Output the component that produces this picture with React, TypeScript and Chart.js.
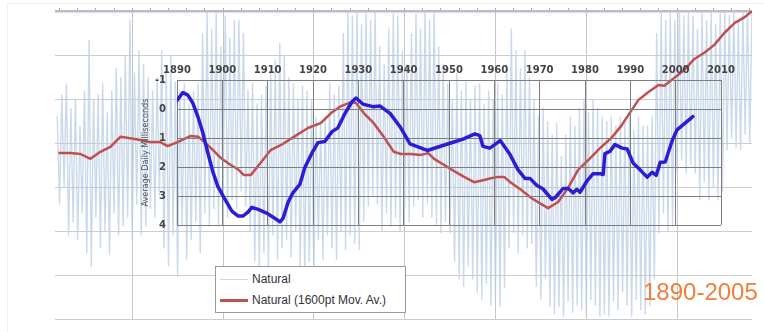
import React, { useEffect, useRef } from 'react';
import { Chart, registerables } from 'chart.js';

Chart.register(...registerables);

// ---- Background series "Natural" (daily values, sampled every half year, outer-chart units) ----
const natStartYear = 1863.5;
const natStepYears = 0.5;
const naturalValues = [
  4.6, 2.6, 5.1, 3.0, 5.36, 1.9, 4.8, 2.2, 5.0, 1.8,
  4.4, 2.4, 5.2, 1.5, 6.34, 1.18, 5.0, 2.3, 5.1, 1.6,
  5.36, 2.0, 4.7, 1.45, 5.2, 2.4, 5.7, 1.9, 5.5, 2.1,
  6.0, 2.3, 6.8, 1.8, 5.6, 2.6, 6.1, 1.9, 5.8, 2.1,
  5.5, 2.5, 5.2, 2.3, 5.5, 2.8, 6.1, 1.6, 5.7, 1.2,
  6.0, 1.9, 5.4, 0.95, 5.2, 2.1, 5.36, 1.34, 4.9, 1.8,
  5.2, 2.2, 5.36, 1.5, 6.5, 2.4, 7.0, 2.1, 6.6, 2.5,
  7.0, 2.1, 6.2, 2.8, 6.9, 2.3, 6.4, 2.7, 6.8, 2.5,
  6.8, 2.9, 6.5, 2.55, 5.2, 2.0, 5.36, 1.3, 4.9, 1.18,
  5.1, 1.5, 5.3, 1.2, 5.6, 1.9, 5.9, 1.34, 6.27, 1.6,
  6.0, 1.8, 5.5, 1.4, 5.36, 2.0, 5.0, 1.1, 5.3, 1.05,
  5.2, 1.3, 5.0, 1.05, 4.6, 1.8, 4.5, 1.34, 4.6, 1.9,
  5.36, 1.6, 5.1, 1.34, 5.3, 2.0, 6.5, 1.57, 7.0, 1.9,
  6.9, 1.7, 7.0, 1.57, 6.7, 2.2, 7.0, 2.55, 6.8, 2.8,
  7.0, 2.6, 6.2, 2.0, 5.8, 2.4, 6.6, 2.1, 6.95, 2.3,
  6.9, 2.0, 6.1, 2.5, 5.8, 2.2, 6.5, 2.55, 6.95, 2.7,
  6.6, 2.3, 7.0, 2.6, 6.8, 2.3, 7.0, 2.1, 6.2, 1.95,
  5.8, 2.2, 5.36, 1.95, 5.0, 1.3, 5.6, 0.9, 5.2, 0.73,
  5.4, 1.2, 5.0, 0.9, 5.3, 0.6, 5.36, 0.43, 4.9, 0.8,
  5.2, 0.3, 5.0, 0.5, 5.36, 0.27, 5.1, 0.7, 5.8, 1.6,
  6.6, 1.95, 6.1, 1.5, 5.7, 1.9, 6.1, 1.6, 5.5, 1.7,
  5.0, 0.73, 4.6, 0.43, 4.8, 0.9, 4.5, 0.27, 4.2, 0.1,
  4.45, 0.27, 3.7, 0.05, 4.2, 0.4, 4.6, 0.14, 4.4, 0.3,
  4.8, 0.2, 5.0, 0.14, 4.7, 0.43, 5.0, 0.3, 4.8, 0.05,
  4.6, 0.1, 4.5, 0.05, 4.6, 0.4, 4.4, 0.2, 4.6, 0.6,
  4.5, 0.3, 4.6, 0.05, 4.3, 0.43, 4.6, 0.2, 4.4, 0.1,
  4.4, 0.3, 4.6, 0.9, 6.5, 1.95, 7.0, 2.4, 6.8, 2.0,
  7.0, 2.1, 6.8, 3.3, 7.0, 3.6, 6.9, 3.3, 7.0, 3.5,
  6.9, 3.3, 6.6, 2.7, 7.0, 3.1, 6.8, 2.7, 7.0, 3.0,
  6.7, 2.7, 7.0, 2.9, 7.0, 3.84, 6.9, 4.1, 7.0, 3.9,
  6.8, 3.84, 7.0, 4.2, 7.0, 4.0, 7.0,
];

// ---- "Natural (1600pt Mov. Av.)" (outer-chart units) ----
const movAvYears = [
  1863.75, 1866.4, 1868.6, 1870.8, 1873.0, 1875.2, 1877.4, 1879.6, 1881.8, 1884.0,
  1886.2, 1887.8, 1890.0, 1892.9, 1894.6, 1897.3, 1899.5, 1901.7, 1903.2, 1904.6,
  1906.1, 1908.3, 1910.5, 1912.7, 1915.6, 1918.7, 1921.5, 1923.8, 1926.0, 1928.2,
  1929.3, 1931.0, 1933.2, 1935.4, 1937.6, 1939.2, 1941.4, 1943.6, 1945.2, 1946.5,
  1948.7, 1950.9, 1953.1, 1955.3, 1957.5, 1959.0, 1960.6, 1961.9, 1963.5, 1965.7,
  1967.9, 1970.1, 1971.6, 1973.8, 1976.0, 1978.2, 1981.1, 1983.3, 1985.5, 1987.7,
  1989.3, 1991.5, 1993.7, 1995.9, 1997.2, 1999.4, 2001.6, 2003.8, 2006.0, 2008.2,
  2010.4, 2012.7, 2014.9, 2016.5,
];
const movAvValues = [
  3.77, 3.77, 3.75, 3.64, 3.80, 3.91, 4.14, 4.11, 4.07, 4.02,
  4.02, 3.93, 4.02, 4.16, 4.14, 3.89, 3.66, 3.50, 3.41, 3.27,
  3.27, 3.55, 3.84, 3.95, 4.14, 4.34, 4.45, 4.68, 4.84, 4.93,
  4.91, 4.68, 4.45, 4.14, 3.80, 3.75, 3.75, 3.73, 3.77, 3.64,
  3.50, 3.36, 3.23, 3.11, 3.16, 3.20, 3.23, 3.23, 3.09, 2.93,
  2.75, 2.61, 2.52, 2.66, 2.98, 3.39, 3.68, 3.91, 4.11, 4.39,
  4.64, 4.98, 5.16, 5.32, 5.30, 5.48, 5.66, 5.91, 6.05, 6.23,
  6.50, 6.73, 6.86, 7.0,
];

// ---- Inset: average daily milliseconds (LOD) ----
const insetYears = [
  1889.8, 1891.3, 1892.4, 1893.5, 1894.6, 1895.7, 1896.8, 1897.9, 1899.0, 1900.6,
  1902.1, 1903.5, 1904.6, 1905.7, 1906.5, 1907.9, 1909.9, 1911.2, 1912.7, 1913.4,
  1914.5, 1915.6, 1917.1, 1918.2, 1919.8, 1921.1, 1922.6, 1924.2, 1925.5, 1927.1,
  1928.6, 1929.5, 1931.0, 1933.2, 1934.8, 1937.0, 1939.2, 1941.4, 1945.2, 1950.2,
  1953.1, 1955.7, 1956.8, 1957.5, 1959.0, 1961.3, 1963.5, 1965.2, 1966.8, 1967.9,
  1969.4, 1970.7, 1972.7, 1973.4, 1975.2, 1976.3, 1977.4, 1978.2, 1978.9, 1980.4,
  1981.8, 1983.3, 1984.0, 1984.4, 1985.5, 1986.6, 1988.2, 1989.3, 1990.6, 1992.1,
  1993.7, 1994.8, 1995.7, 1996.6, 1997.7, 1999.3, 2000.3, 2001.6, 2003.2, 2003.8,
];
const insetValues = [
  -0.25, -0.57, -0.48, -0.20, 0.26, 0.82, 1.51, 2.16, 2.67, 3.12,
  3.52, 3.69, 3.69, 3.55, 3.39, 3.46, 3.60, 3.73, 3.89, 3.77,
  3.22, 2.88, 2.60, 2.02, 1.51, 1.16, 1.12, 0.78, 0.65, 0.14,
  -0.25, -0.38, -0.17, -0.08, -0.10, 0.15, 0.61, 1.20, 1.43, 1.18,
  1.04, 0.86, 0.92, 1.29, 1.35, 1.09, 1.58, 2.09, 2.40, 2.40,
  2.64, 2.75, 3.12, 3.06, 2.74, 2.74, 2.89, 2.77, 2.87, 2.49,
  2.23, 2.23, 2.26, 1.54, 1.46, 1.23, 1.35, 1.38, 1.86, 2.09,
  2.35, 2.18, 2.29, 1.84, 1.83, 1.06, 0.72, 0.55, 0.34, 0.26,
];

// ---- Ticks / labels ----
const outerGridYears = [1880, 1900, 1920, 1940, 1960, 1980, 2000];
const outerGridLevels = [0, 1, 2, 3, 4, 5, 6, 7];
const topTickYears = [
  1864, 1868, 1872, 1876, 1880, 1884, 1888, 1892, 1896, 1900, 1904, 1908, 1912,
  1916, 1920, 1924, 1928, 1932, 1936, 1940, 1944, 1948, 1952, 1956, 1960, 1964,
  1968, 1972, 1976, 1980, 1984, 1988, 1992, 1996, 2000, 2004, 2008, 2012, 2016,
];
const insetXTicks = [1890, 1900, 1910, 1920, 1930, 1940, 1950, 1960, 1970, 1980, 1990, 2000, 2010];
const insetYTicks = [-1, 0, 1, 2, 3, 4];
const insetYTitle = 'Average Daily Milliseconds';
const legendLabels = ['Natural', 'Natural (1600pt Mov. Av.)'];
const periodLabel = '1890-2005';

const NAT_COLOR = 'rgba(186,204,228,0.75)';
const RED = '#c0504d';
const BLUE = '#2b1dd6';

export default function App() {
  const outerRef = useRef<HTMLCanvasElement>(null);
  const insetRef = useRef<HTMLCanvasElement>(null);

  useEffect(() => {
    const natural = naturalValues.map((v, i) => ({ x: natStartYear + i * natStepYears, y: v }));
    const movAv = movAvYears.map((x, i) => ({ x, y: movAvValues[i] }));
    const inset = insetYears.map((x, i) => ({ x, y: insetValues[i] }));

    const outer = new Chart(outerRef.current as HTMLCanvasElement, {
      type: 'line',
      data: {
        datasets: [
          { label: legendLabels[1], data: movAv, borderColor: RED, borderWidth: 2.5, pointRadius: 0, order: 0, borderJoinStyle: 'round' },
          { label: legendLabels[0], data: natural, borderColor: NAT_COLOR, borderWidth: 1.4, pointRadius: 0, order: 1 },
        ],
      },
      options: {
        animation: false,
        responsive: false,
        events: [],
        layout: { padding: { left: 55, top: 8, right: 12, bottom: 13 } },
        plugins: { legend: { display: false }, tooltip: { enabled: false } },
        scales: {
          x: {
            type: 'linear', position: 'bottom', min: 1863, max: 2016.5,
            afterBuildTicks: (s: any) => { s.ticks = outerGridYears.map((v) => ({ value: v })); },
            afterFit: (s: any) => { s.height = 0; s.paddingLeft = 0; s.paddingRight = 0; },
            ticks: { display: false },
            grid: { color: '#c6c6c6', lineWidth: 1, drawTicks: false },
            border: { display: false },
          },
          xTop: {
            type: 'linear', position: 'top', min: 1863, max: 2016.5,
            afterBuildTicks: (s: any) => { s.ticks = topTickYears.map((v) => ({ value: v })); },
            afterFit: (s: any) => { s.height = 3; s.paddingLeft = 0; s.paddingRight = 0; },
            ticks: { display: false },
            grid: { drawOnChartArea: false, drawTicks: true, tickLength: 3, color: '#aaa7b8' },
            border: { display: false },
          },
          y: {
            type: 'linear', min: 0, max: 7,
            afterBuildTicks: (s: any) => { s.ticks = outerGridLevels.map((v) => ({ value: v })); },
            afterFit: (s: any) => { s.width = 0; s.paddingTop = 0; s.paddingBottom = 0; },
            ticks: { display: false },
            grid: {
              drawTicks: false,
              color: (c: any) => (c.tick && c.tick.value === 7 ? '#bdb9ca' : '#cdcdcd'),
              lineWidth: (c: any) => (c.tick && c.tick.value === 7 ? 2.5 : 1),
            },
            border: { display: false },
          },
        },
      },
    } as any);

    const insetChart = new Chart(insetRef.current as HTMLCanvasElement, {
      type: 'line',
      data: {
        datasets: [
          { label: 'LOD', data: inset, borderColor: BLUE, borderWidth: 3.5, pointRadius: 0, borderJoinStyle: 'round', borderCapStyle: 'round' },
        ],
      },
      options: {
        animation: false,
        responsive: false,
        events: [],
        layout: { padding: { left: 137, top: 60, right: 43, bottom: 107 } },
        plugins: { legend: { display: false }, tooltip: { enabled: false } },
        scales: {
          x: {
            type: 'linear', position: 'top', min: 1890, max: 2010,
            afterBuildTicks: (s: any) => { s.ticks = insetXTicks.map((v) => ({ value: v })); },
            afterFit: (s: any) => { s.height = 20; s.paddingLeft = 0; s.paddingRight = 0; },
            ticks: {
              padding: 4, color: '#444', autoSkip: false, maxRotation: 0,
              font: { family: "'DejaVu Sans', sans-serif", size: 10, weight: 'bold' },
              callback: (v: any) => String(v),
            },
            grid: { color: '#7e7e7e', lineWidth: 1, drawTicks: false },
            border: { color: '#7e7e7e' },
          },
          y: {
            type: 'linear', reverse: true, min: -1, max: 4,
            afterBuildTicks: (s: any) => { s.ticks = insetYTicks.map((v) => ({ value: v })); },
            afterFit: (s: any) => { s.width = 40; s.paddingTop = 0; s.paddingBottom = 0; },
            ticks: {
              padding: 11, color: '#444',
              font: { family: "'DejaVu Sans', sans-serif", size: 10, weight: 'bold' },
              callback: (v: any) => String(v),
            },
            title: {
              display: true, text: insetYTitle, color: '#555', padding: { top: 3, bottom: 0 },
              font: { family: "'Liberation Sans Narrow', 'DejaVu Sans Condensed', sans-serif", size: 9 },
            },
            grid: { color: '#7e7e7e', lineWidth: 1, drawTicks: false },
            border: { color: '#7e7e7e' },
          },
        },
      },
    } as any);

    return () => {
      outer.destroy();
      insetChart.destroy();
    };
  }, []);

  const font = "'Liberation Sans', Arial, sans-serif";

  return (
    <div style={{ position: 'fixed', left: 0, top: 0, width: 764, height: 332, background: '#fff', overflow: 'hidden' }}>
      <div style={{ position: 'absolute', left: 7, top: 3, right: 0, bottom: 0, borderLeft: '1px solid #f0f0f0', borderTop: '1px solid #f0f0f0' }} />
      <canvas ref={outerRef} width={764} height={332} style={{ position: 'absolute', left: 0, top: 0 }} />
      <canvas ref={insetRef} width={764} height={332} style={{ position: 'absolute', left: 0, top: 0 }} />
      <div
        style={{
          position: 'absolute', left: 215, top: 266, width: 191, height: 47, boxSizing: 'border-box',
          background: '#fff', border: '1px solid #9a9a9a', fontFamily: font, fontSize: 12, color: '#333',
        }}
      >
        <div style={{ position: 'absolute', left: 4, top: 5, height: 14, display: 'flex', alignItems: 'center' }}>
          <span style={{ display: 'inline-block', width: 28, height: 1, background: '#cbd8ea' }} />
          <span style={{ marginLeft: 4, whiteSpace: 'nowrap' }}>{legendLabels[0]}</span>
        </div>
        <div style={{ position: 'absolute', left: 4, top: 26, height: 14, display: 'flex', alignItems: 'center' }}>
          <span style={{ display: 'inline-block', width: 28, height: 3, background: RED }} />
          <span style={{ marginLeft: 4, whiteSpace: 'nowrap' }}>{legendLabels[1]}</span>
        </div>
      </div>
      <div
        style={{
          position: 'absolute', left: 643, top: 280, fontFamily: font, fontSize: 24, lineHeight: '24px',
          color: '#f07e3c', whiteSpace: 'nowrap',
        }}
      >
        {periodLabel}
      </div>
    </div>
  );
}
